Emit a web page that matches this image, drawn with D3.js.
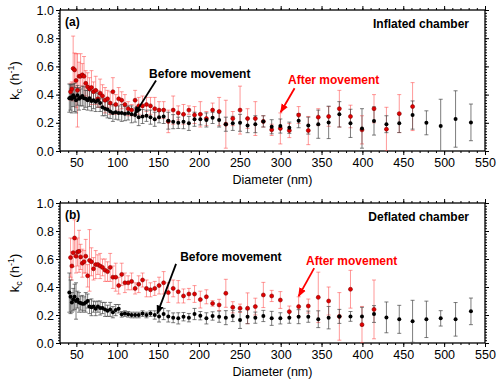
<!DOCTYPE html>
<html>
<head>
<meta charset="utf-8">
<script src="https://cdn.jsdelivr.net/npm/d3@7"></script>
<style>
  body { margin: 0; background: white; }
  text { font-family: Arial, "Liberation Sans", sans-serif; }
</style>
</head>
<body>
<div id="chart"></div>
<script>
const width = 500
const height = 386

// [diameter (nm), kc (h-1), error]
const beforeA = [
  [41.4, 0.375, 0.10], [42.9, 0.38, 0.09], [44.5, 0.37, 0.10], [46.1, 0.395, 0.08],
  [47.8, 0.38, 0.10], [49.6, 0.36, 0.09], [51.4, 0.395, 0.07], [53.3, 0.37, 0.08],
  [55.2, 0.38, 0.06], [57.3, 0.39, 0.07], [59.4, 0.375, 0.08], [61.5, 0.37, 0.06],
  [63.8, 0.36, 0.07], [66.1, 0.375, 0.06], [68.5, 0.355, 0.07], [71.0, 0.36, 0.06],
  [73.7, 0.35, 0.07], [76.4, 0.36, 0.05], [79.1, 0.34, 0.06], [82.0, 0.31, 0.06],
  [85.1, 0.30, 0.05], [88.2, 0.295, 0.06], [91.4, 0.28, 0.05], [94.7, 0.27, 0.06],
  [98.2, 0.275, 0.05], [101.8, 0.27, 0.05], [105.5, 0.27, 0.06], [109.4, 0.265, 0.05],
  [113.4, 0.27, 0.05], [117.6, 0.26, 0.06], [121.9, 0.255, 0.05], [126.3, 0.24, 0.06],
  [131.0, 0.245, 0.05], [135.8, 0.25, 0.04], [140.7, 0.24, 0.05], [145.9, 0.225, 0.05],
  [151.2, 0.24, 0.04], [156.8, 0.245, 0.05], [162.5, 0.215, 0.06], [168.5, 0.208, 0.05],
  [174.7, 0.20, 0.04], [181.1, 0.208, 0.05], [187.7, 0.196, 0.05], [194.6, 0.225, 0.05],
  [201.7, 0.225, 0.04], [209.1, 0.22, 0.05], [216.7, 0.235, 0.04], [224.7, 0.22, 0.05],
  [232.9, 0.19, 0.05], [241.4, 0.196, 0.05], [250.3, 0.20, 0.06], [259.5, 0.18, 0.05],
  [269.0, 0.19, 0.06], [278.8, 0.21, 0.04], [289.0, 0.172, 0.05], [299.6, 0.177, 0.05],
  [310.6, 0.165, 0.04], [322.0, 0.215, 0.05], [333.8, 0.18, 0.06], [346.0, 0.19, 0.10],
  [358.7, 0.203, 0.115], [371.8, 0.26, 0.09], [385.4, 0.196, 0.10], [399.5, 0.16, 0.14],
  [414.2, 0.213, 0.10], [429.4, 0.19, 0.06], [445.1, 0.196, 0.065], [461.4, 0.255, 0.10],
  [478.3, 0.20, 0.085], [495.8, 0.177, 0.19], [514.0, 0.227, 0.20], [532.8, 0.203, 0.13]
]

const afterA = [
  [42.9, 0.42, 0.06], [44.5, 0.44, 0.05], [46.1, 0.585, 0.23], [47.8, 0.575, 0.12],
  [49.6, 0.50, 0.19], [51.4, 0.43, 0.26], [53.3, 0.53, 0.10], [55.2, 0.53, 0.16],
  [57.3, 0.54, 0.08], [59.4, 0.53, 0.14], [61.5, 0.48, 0.09], [63.8, 0.455, 0.10],
  [66.1, 0.44, 0.08], [68.5, 0.45, 0.12], [71.0, 0.42, 0.07], [73.7, 0.43, 0.10],
  [76.4, 0.37, 0.06], [79.1, 0.41, 0.10], [82.0, 0.39, 0.08], [85.1, 0.36, 0.09],
  [88.2, 0.37, 0.06], [91.4, 0.34, 0.08], [94.7, 0.42, 0.10], [98.2, 0.33, 0.07],
  [101.8, 0.37, 0.08], [105.5, 0.36, 0.06], [109.4, 0.33, 0.07], [113.4, 0.30, 0.05],
  [117.6, 0.29, 0.04], [121.9, 0.36, 0.07], [126.3, 0.32, 0.06], [131.0, 0.32, 0.07],
  [135.8, 0.33, 0.05], [140.7, 0.32, 0.06], [145.9, 0.30, 0.08], [151.2, 0.29, 0.06],
  [156.8, 0.29, 0.06], [162.5, 0.21, 0.08], [168.5, 0.29, 0.10], [174.7, 0.27, 0.05],
  [181.1, 0.26, 0.07], [187.7, 0.29, 0.03], [194.6, 0.255, 0.06], [201.7, 0.26, 0.09],
  [209.1, 0.23, 0.05], [216.7, 0.29, 0.05], [224.7, 0.28, 0.10], [232.9, 0.19, 0.17],
  [241.4, 0.23, 0.05], [250.3, 0.29, 0.17], [259.5, 0.23, 0.07], [269.0, 0.23, 0.12],
  [278.8, 0.21, 0.04], [289.0, 0.15, 0.04], [299.6, 0.16, 0.11], [310.6, 0.145, 0.05],
  [322.0, 0.255, 0.06], [333.8, 0.145, 0.10], [346.0, 0.24, 0.06], [358.7, 0.245, 0.07],
  [371.8, 0.30, 0.13], [385.4, 0.245, 0.08], [399.5, 0.15, 0.10], [414.2, 0.30, 0.10],
  [429.4, 0.155, 0.155], [445.1, 0.265, 0.135], [461.4, 0.315, 0.17]
]

const beforeB = [
  [41.4, 0.36, 0.14], [42.9, 0.33, 0.12], [44.5, 0.29, 0.07], [46.1, 0.31, 0.08],
  [47.8, 0.33, 0.09], [49.6, 0.30, 0.13], [51.4, 0.31, 0.06], [53.3, 0.29, 0.07],
  [55.2, 0.285, 0.05], [57.3, 0.28, 0.06], [59.4, 0.28, 0.05], [61.5, 0.29, 0.07],
  [63.8, 0.30, 0.05], [66.1, 0.26, 0.05], [68.5, 0.255, 0.06], [71.0, 0.26, 0.04],
  [73.7, 0.245, 0.05], [76.4, 0.26, 0.04], [79.1, 0.25, 0.05], [82.0, 0.25, 0.04],
  [85.1, 0.24, 0.05], [88.2, 0.23, 0.04], [91.4, 0.24, 0.05], [94.7, 0.22, 0.04],
  [98.2, 0.235, 0.04], [101.8, 0.245, 0.03], [105.5, 0.205, 0.02], [109.4, 0.21, 0.02],
  [113.4, 0.205, 0.02], [117.6, 0.20, 0.02], [121.9, 0.20, 0.02], [126.3, 0.20, 0.02],
  [131.0, 0.21, 0.02], [135.8, 0.20, 0.02], [140.7, 0.21, 0.02], [145.9, 0.20, 0.03],
  [151.2, 0.19, 0.04], [156.8, 0.207, 0.04], [162.5, 0.19, 0.04], [168.5, 0.18, 0.035],
  [174.7, 0.176, 0.04], [181.1, 0.188, 0.03], [187.7, 0.181, 0.03], [194.6, 0.207, 0.04],
  [201.7, 0.195, 0.03], [209.1, 0.176, 0.04], [216.7, 0.193, 0.03], [224.7, 0.188, 0.04],
  [232.9, 0.181, 0.05], [241.4, 0.193, 0.04], [250.3, 0.164, 0.06], [259.5, 0.188, 0.05],
  [269.0, 0.181, 0.04], [278.8, 0.193, 0.04], [289.0, 0.176, 0.05], [299.6, 0.176, 0.04],
  [310.6, 0.181, 0.04], [322.0, 0.188, 0.05], [333.8, 0.188, 0.04], [346.0, 0.17, 0.06],
  [358.7, 0.181, 0.08], [371.8, 0.19, 0.05], [385.4, 0.19, 0.035], [399.5, 0.19, 0.065],
  [414.2, 0.207, 0.06], [429.4, 0.183, 0.11], [445.1, 0.169, 0.10], [461.4, 0.155, 0.15],
  [478.3, 0.169, 0.13], [495.8, 0.176, 0.055], [514.0, 0.169, 0.12], [532.8, 0.226, 0.095]
]

const afterB = [
  [42.9, 0.61, 0.14], [44.5, 0.55, 0.10], [46.1, 0.645, 0.10], [47.8, 0.75, 0.13],
  [49.6, 0.62, 0.12], [51.4, 0.65, 0.10], [53.3, 0.655, 0.15], [55.2, 0.615, 0.09],
  [57.3, 0.57, 0.10], [59.4, 0.58, 0.08], [61.5, 0.62, 0.12], [63.8, 0.48, 0.08],
  [66.1, 0.59, 0.22], [68.5, 0.58, 0.10], [71.0, 0.53, 0.08], [73.7, 0.56, 0.10],
  [76.4, 0.56, 0.07], [79.1, 0.55, 0.09], [82.0, 0.54, 0.06], [85.1, 0.52, 0.08],
  [88.2, 0.51, 0.07], [91.4, 0.54, 0.10], [94.7, 0.47, 0.08], [98.2, 0.47, 0.10],
  [101.8, 0.41, 0.06], [105.5, 0.49, 0.08], [109.4, 0.43, 0.07], [113.4, 0.43, 0.05],
  [117.6, 0.44, 0.06], [121.9, 0.39, 0.04], [126.3, 0.42, 0.06], [131.0, 0.45, 0.05],
  [135.8, 0.39, 0.06], [140.7, 0.38, 0.05], [145.9, 0.39, 0.05], [151.2, 0.41, 0.06],
  [156.8, 0.43, 0.08], [162.5, 0.36, 0.07], [168.5, 0.39, 0.06], [174.7, 0.366, 0.08],
  [181.1, 0.336, 0.05], [187.7, 0.35, 0.04], [194.6, 0.35, 0.06], [201.7, 0.31, 0.06],
  [209.1, 0.33, 0.05], [216.7, 0.283, 0.02], [224.7, 0.272, 0.04], [232.9, 0.355, 0.10],
  [241.4, 0.255, 0.04], [250.3, 0.248, 0.03], [259.5, 0.248, 0.11], [269.0, 0.26, 0.06],
  [278.8, 0.343, 0.09], [289.0, 0.336, 0.04], [299.6, 0.307, 0.06], [310.6, 0.224, 0.04],
  [322.0, 0.26, 0.07], [333.8, 0.264, 0.05], [346.0, 0.326, 0.18], [358.7, 0.30, 0.10],
  [371.8, 0.19, 0.17], [385.4, 0.384, 0.135], [399.5, 0.131, 0.13], [414.2, 0.24, 0.21]
]

const xTicks = [50, 100, 150, 200, 250, 300, 350, 400, 450, 500, 550]
const yTicks = [0.0, 0.2, 0.4, 0.6, 0.8, 1.0]

const panels = [
  {
    id: "a", letter: "(a)", chamber: "Inflated chamber", top: 10, bottom: 151,
    before: beforeA, after: afterA,
    beforeText: [139, 0.515], beforeArrow: [[147.5, 0.50], [121, 0.258]],
    afterText: [309, 0.475], afterArrow: [[317, 0.445], [300, 0.275]]
  },
  {
    id: "b", letter: "(b)", chamber: "Deflated chamber", top: 203, bottom: 343,
    before: beforeB, after: afterB,
    beforeText: [177, 0.585], beforeArrow: [[172, 0.565], [149, 0.21]],
    afterText: [331, 0.56], afterArrow: [[341, 0.535], [322, 0.335]]
  }
]

const color_before = "black"
const color_before_bar = "rgba(70,70,70,0.7)"
const color_after = "#e00000"
const color_after_bar = "rgba(255,70,70,0.55)"

const svg = d3.select("#chart").append("svg")
  .attr("width", width)
  .attr("height", height)

svg.append("defs").selectAll("marker")
  .data([["arrowBlack", "black"], ["arrowRed", "#ff0000"]])
  .join("marker")
  .attr("id", d => d[0])
  .attr("viewBox", "0 0 10 10")
  .attr("refX", 9).attr("refY", 5)
  .attr("markerWidth", 5).attr("markerHeight", 5)
  .attr("orient", "auto")
  .append("path")
  .attr("d", "M0,1 L10,5 L0,9 Z")
  .attr("fill", d => d[1])

const x = d3.scaleLinear().domain([30, 550]).range([60, 485])

panels.forEach(p => drawPanel(p))

function drawPanel(p) {
  const y = d3.scaleLinear().domain([0, 1]).range([p.bottom, p.top])
  const g = svg.append("g").attr("id", "panel-" + p.id)

  g.append("clipPath").attr("id", "clip-" + p.id)
    .append("rect")
    .attr("x", x.range()[0]).attr("y", p.top)
    .attr("width", x.range()[1] - x.range()[0]).attr("height", p.bottom - p.top)

  // axes: major + minor, outward ticks on all sides
  const axisStyle = (sel) => {
    sel.select(".domain").remove()
    sel.selectAll("line").attr("stroke", "black").attr("stroke-width", 1)
    sel.selectAll("text").attr("font-size", 12.5).attr("fill", "black")
  }
  g.append("g").attr("transform", `translate(0,${p.bottom})`)
    .call(d3.axisBottom(x).tickValues(d3.range(30, 551, 10)).tickSize(2).tickFormat("")).call(axisStyle)
  g.append("g").attr("transform", `translate(0,${p.bottom})`)
    .call(d3.axisBottom(x).tickValues(xTicks).tickSize(4).tickPadding(3)).call(axisStyle)
  g.append("g").attr("transform", `translate(0,${p.top})`)
    .call(d3.axisTop(x).tickValues(d3.range(30, 551, 10)).tickSize(2).tickFormat("")).call(axisStyle)
  g.append("g").attr("transform", `translate(0,${p.top})`)
    .call(d3.axisTop(x).tickValues(xTicks).tickSize(4).tickFormat("")).call(axisStyle)

  const yMinor = d3.range(0, 51).map(i => i / 50)
  g.append("g").attr("transform", `translate(${x.range()[0]},0)`)
    .call(d3.axisLeft(y).tickValues(yMinor).tickSize(2).tickFormat("")).call(axisStyle)
  g.append("g").attr("transform", `translate(${x.range()[0]},0)`)
    .call(d3.axisLeft(y).tickValues(yTicks).tickSize(4).tickPadding(2).tickFormat(d3.format(".1f"))).call(axisStyle)
  g.append("g").attr("transform", `translate(${x.range()[1]},0)`)
    .call(d3.axisRight(y).tickValues(yMinor).tickSize(2).tickFormat("")).call(axisStyle)
  g.append("g").attr("transform", `translate(${x.range()[1]},0)`)
    .call(d3.axisRight(y).tickValues(yTicks).tickSize(4).tickFormat("")).call(axisStyle)

  g.append("rect")
    .attr("x", x.range()[0]).attr("y", p.top)
    .attr("width", x.range()[1] - x.range()[0]).attr("height", p.bottom - p.top)
    .attr("fill", "none").attr("stroke", "black").attr("stroke-width", 1.3)

  const marks = g.append("g").attr("clip-path", `url(#clip-${p.id})`)

  // error bars
  const bars = (data, color, cls) => {
    const eb = marks.append("g").attr("class", cls)
      .selectAll("g").data(data).join("g")
    eb.append("line")
      .attr("x1", d => x(d[0])).attr("x2", d => x(d[0]))
      .attr("y1", d => y(d[1] - d[2])).attr("y2", d => y(d[1] + d[2]))
      .attr("stroke", color).attr("stroke-width", 1)
    eb.selectAll(".cap").data(d => [d[1] - d[2], d[1] + d[2]].map(v => [d[0], v]))
      .join("line").attr("class", "cap")
      .attr("x1", d => x(d[0]) - 2).attr("x2", d => x(d[0]) + 2)
      .attr("y1", d => y(d[1])).attr("y2", d => y(d[1]))
      .attr("stroke", color).attr("stroke-width", 1)
  }
  bars(p.after, color_after_bar, "after-bars")
  bars(p.before, color_before_bar, "before-bars")

  marks.append("g").selectAll("circle").data(p.after).join("circle")
    .attr("cx", d => x(d[0])).attr("cy", d => y(d[1])).attr("r", 2)
    .attr("fill", color_after).attr("stroke", "#8a0000").attr("stroke-width", 0.6)
  marks.append("g").selectAll("circle").data(p.before).join("circle")
    .attr("cx", d => x(d[0])).attr("cy", d => y(d[1])).attr("r", 2)
    .attr("fill", color_before)

  // annotations
  g.append("text").text(p.letter)
    .attr("x", 65).attr("y", p.top + 16)
    .attr("font-size", 12).attr("font-weight", "bold")
  g.append("text").text(p.chamber)
    .attr("x", 469).attr("y", p.top + 18)
    .attr("text-anchor", "end").attr("font-size", 12).attr("font-weight", "bold")

  g.append("text").text("Before movement")
    .attr("x", x(p.beforeText[0])).attr("y", y(p.beforeText[1]))
    .attr("font-size", 12).attr("font-weight", "bold").attr("fill", "black")
  g.append("line")
    .attr("x1", x(p.beforeArrow[0][0])).attr("y1", y(p.beforeArrow[0][1]))
    .attr("x2", x(p.beforeArrow[1][0])).attr("y2", y(p.beforeArrow[1][1]))
    .attr("stroke", "black").attr("stroke-width", 1.8)
    .attr("marker-end", "url(#arrowBlack)")

  g.append("text").text("After movement")
    .attr("x", x(p.afterText[0])).attr("y", y(p.afterText[1]))
    .attr("font-size", 12).attr("font-weight", "bold").attr("fill", "#ff0000")
  g.append("line")
    .attr("x1", x(p.afterArrow[0][0])).attr("y1", y(p.afterArrow[0][1]))
    .attr("x2", x(p.afterArrow[1][0])).attr("y2", y(p.afterArrow[1][1]))
    .attr("stroke", "#ff0000").attr("stroke-width", 1.8)
    .attr("marker-end", "url(#arrowRed)")

  // axis titles
  g.append("text").text("Diameter (nm)")
    .attr("x", (x.range()[0] + x.range()[1]) / 2).attr("y", p.bottom + 33)
    .attr("text-anchor", "middle").attr("font-size", 12.5)

  const yl = g.append("text")
    .attr("transform", `translate(19,${(p.top + p.bottom) / 2}) rotate(-90)`)
    .attr("text-anchor", "middle").attr("font-size", 13)
  yl.append("tspan").text("k")
  yl.append("tspan").text("c").attr("font-size", 9).attr("dy", 3)
  yl.append("tspan").text(" (h").attr("dy", -3)
  yl.append("tspan").text("-1").attr("font-size", 9).attr("dy", -5)
  yl.append("tspan").text(")").attr("dy", 5)
}
</script>
</body>
</html>
